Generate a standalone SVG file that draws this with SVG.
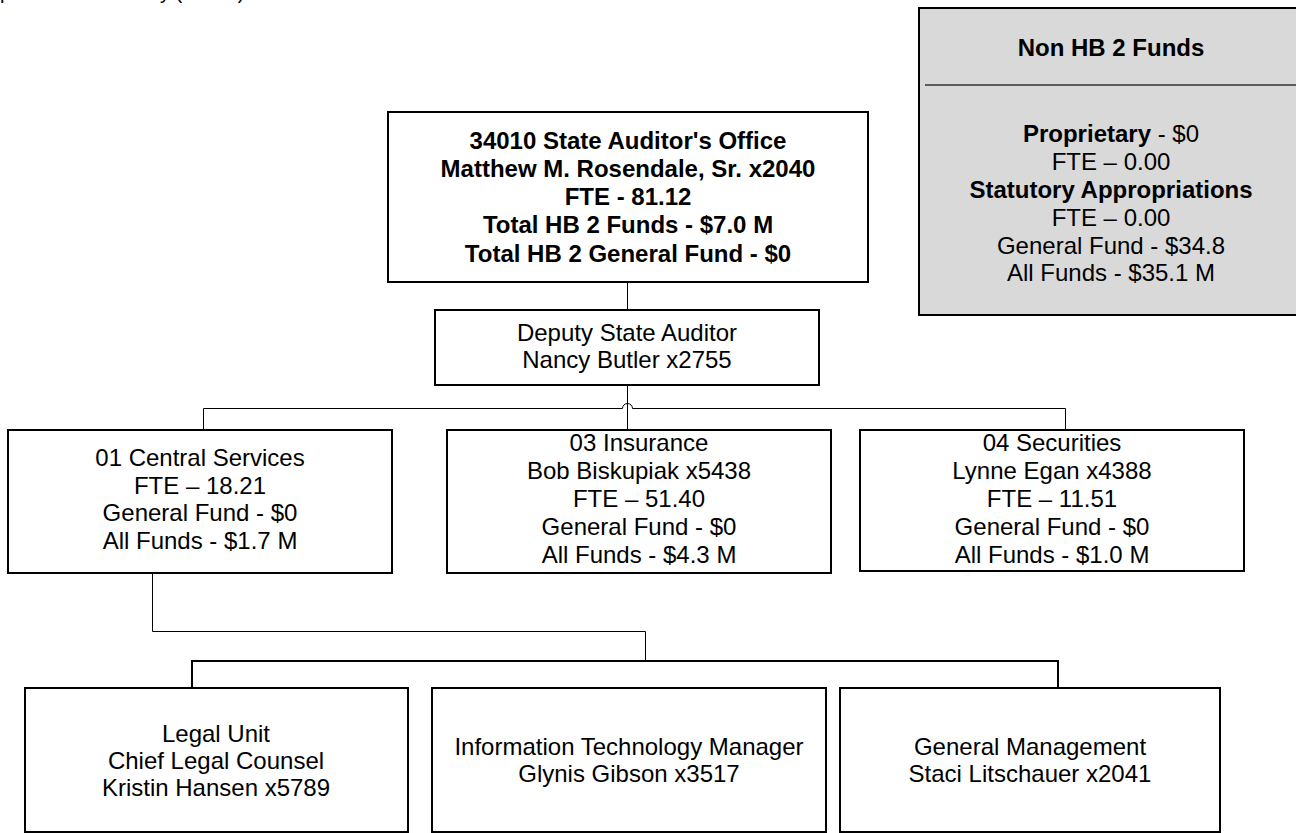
<svg xmlns="http://www.w3.org/2000/svg" width="1296" height="833" viewBox="0 0 1296 833">
<style>
text{font-family:"Liberation Sans",Arial,sans-serif;font-size:24px;fill:#000;text-anchor:middle}
.b{font-weight:bold}
.box{fill:#fff;stroke:#000;stroke-width:2}
.gray{fill:#d9d9d9;stroke:#000;stroke-width:2}
.c{fill:none;stroke:#000;stroke-width:1}
.c2{fill:none;stroke:#000;stroke-width:2}
</style>
<rect width="1296" height="833" fill="#fff"/>
<text x="-25.6" y="-1.5" style="font-size:20px;text-anchor:start">Department Summary (34010)</text>

<g id="connectors">
<path class="c" d="M627.5,282 V310"/>
<path class="c" d="M627.5,385 V430"/>
<path class="c" d="M203.5,430 V408.5 H622.5 A5,5 0 0 1 632.5,408.5 H1065.5 V430"/>
<path class="c" d="M152.5,573 V631.5 H645.5 V661"/>
<path class="c2" d="M192,688 V661 H1058 V688"/>
</g>

<g id="node-top">
<rect class="box" x="388" y="112" width="480" height="170"/>
<text class="b" x="628" y="149">34010 State Auditor's Office</text>
<text class="b" x="628" y="177">Matthew M. Rosendale, Sr. x2040</text>
<text class="b" x="628" y="205">FTE - 81.12</text>
<text class="b" x="628" y="233">Total HB 2 Funds - $7.0 M</text>
<text class="b" x="628" y="262">Total HB 2 General Fund - $0</text>
</g>

<g id="node-nonhb2">
<rect class="gray" x="919" y="8" width="390" height="307"/>
<text class="b" x="1111" y="56">Non HB 2 Funds</text>
<line x1="925" y1="85" x2="1296" y2="85" stroke="#333" stroke-width="1.5"/>
<text x="1111" y="142"><tspan class="b">Proprietary</tspan> - $0</text>
<text x="1111" y="170">FTE – 0.00</text>
<text class="b" x="1111" y="198">Statutory Appropriations</text>
<text x="1111" y="226">FTE – 0.00</text>
<text x="1111" y="254">General Fund - $34.8</text>
<text x="1111" y="281">All Funds - $35.1 M</text>
</g>

<g id="node-deputy">
<rect class="box" x="435" y="310" width="384" height="75"/>
<text x="627" y="341">Deputy State Auditor</text>
<text x="627" y="368">Nancy Butler x2755</text>
</g>

<g id="node-central">
<rect class="box" x="8" y="430" width="384" height="143"/>
<text x="200" y="466">01 Central Services</text>
<text x="200" y="494">FTE – 18.21</text>
<text x="200" y="521">General Fund - $0</text>
<text x="200" y="549">All Funds - $1.7 M</text>
</g>

<g id="node-insurance">
<rect class="box" x="447" y="430" width="384" height="143"/>
<text x="639" y="451">03 Insurance</text>
<text x="639" y="479">Bob Biskupiak x5438</text>
<text x="639" y="507">FTE – 51.40</text>
<text x="639" y="535">General Fund - $0</text>
<text x="639" y="563">All Funds - $4.3 M</text>
</g>

<g id="node-securities">
<rect class="box" x="860" y="430" width="384" height="141"/>
<text x="1052" y="451">04 Securities</text>
<text x="1052" y="479">Lynne Egan x4388</text>
<text x="1052" y="507">FTE – 11.51</text>
<text x="1052" y="535">General Fund - $0</text>
<text x="1052" y="563">All Funds - $1.0 M</text>
</g>

<g id="node-legal">
<rect class="box" x="25" y="688" width="383" height="144"/>
<text x="216" y="742">Legal Unit</text>
<text x="216" y="769">Chief Legal Counsel</text>
<text x="216" y="796">Kristin Hansen x5789</text>
</g>

<g id="node-it">
<rect class="box" x="432" y="688" width="394" height="144"/>
<text x="629" y="755">Information Technology Manager</text>
<text x="629" y="782">Glynis Gibson x3517</text>
</g>

<g id="node-general">
<rect class="box" x="840" y="688" width="380" height="144"/>
<text x="1030" y="755">General Management</text>
<text x="1030" y="782">Staci Litschauer x2041</text>
</g>
</svg>
